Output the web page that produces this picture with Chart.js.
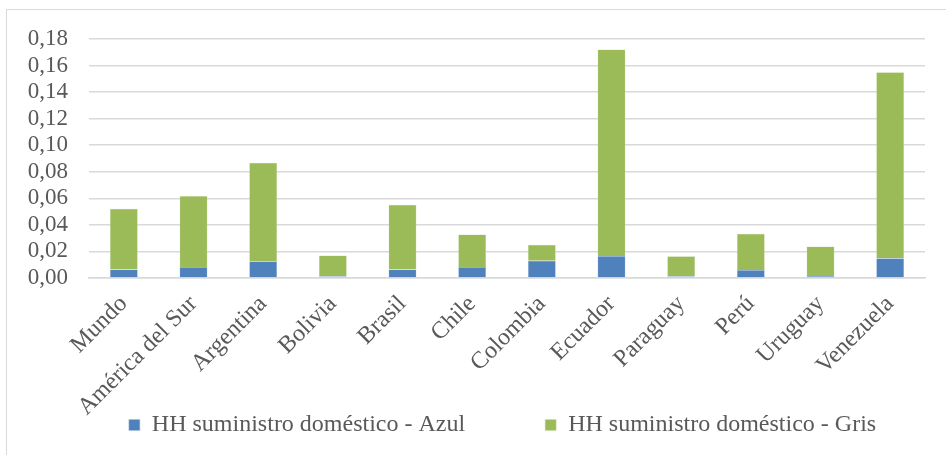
<!DOCTYPE html>
<html>
<head>
<meta charset="utf-8">
<script src="https://cdn.jsdelivr.net/npm/chart.js@4.4.1/dist/chart.umd.min.js"></script>
<style>
  html, body { margin: 0; padding: 0; background: #fff; }
  #wrap { position: relative; width: 946px; height: 455px; overflow: hidden; }
  #frame { position: absolute; left: 6px; top: 9px; width: 960px; height: 470px; border: 1px solid #d9d9d9; box-sizing: border-box; }
  #c { position: absolute; left: 0; top: 0; }
</style>
</head>
<body>
<div id="wrap">
  <div id="frame"></div>
  <canvas id="c" width="1005" height="455"></canvas>
</div>
<script>
const categories = ['Mundo', 'América del Sur', 'Argentina', 'Bolivia', 'Brasil', 'Chile', 'Colombia', 'Ecuador', 'Paraguay', 'Perú', 'Uruguay', 'Venezuela'];
const seriesNames = ['HH suministro doméstico - Azul', 'HH suministro doméstico - Gris'];
const azul = [0.0064, 0.0083, 0.0126, 0.0013, 0.0064, 0.0083, 0.0129, 0.0166, 0.0013, 0.0060, 0.0015, 0.0149];
const gris = [0.0458, 0.0535, 0.0742, 0.0156, 0.0488, 0.0245, 0.0121, 0.1554, 0.0151, 0.0273, 0.0222, 0.1401];
const yTicks = [0, 0.02, 0.04, 0.06, 0.08, 0.10, 0.12, 0.14, 0.16, 0.18];

const FONT = "'Liberation Serif', 'Times New Roman', serif";
Chart.defaults.font.family = FONT;
Chart.defaults.color = '#595959';

new Chart(document.getElementById('c'), {
  type: 'bar',
  data: {
    labels: categories,
    datasets: [
      { label: seriesNames[0], data: azul, backgroundColor: '#4f81bd', borderColor: '#a7c0de', borderWidth: 0.5, barPercentage: 0.4, categoryPercentage: 1.0 },
      { label: seriesNames[1], data: gris, backgroundColor: '#9bbb59', borderColor: '#cddcac', borderWidth: 0.5, barPercentage: 0.4, categoryPercentage: 1.0 }
    ]
  },
  options: {
    responsive: false,
    animation: false,
    devicePixelRatio: 1,
    layout: { padding: { left: 0, right: 0, top: 39, bottom: 8 } },
    plugins: {
      tooltip: { enabled: false },
      legend: {
        position: 'bottom',
        labels: {
          boxWidth: 11, boxHeight: 11, padding: 80,
          color: '#595959',
          font: { family: FONT, size: 24 }
        }
      }
    },
    scales: {
      x: {
        stacked: true,
        grid: { display: false, drawTicks: false },
        border: { display: true, color: '#d9d9d9', width: 1.5 },
        ticks: {
          color: '#595959', font: { family: FONT, size: 24 },
          maxRotation: 45, minRotation: 45, padding: 12, autoSkip: false
        },
        afterFit: (s) => { s.height = 55; s._computeLabelArea = () => undefined; }
      },
      y: {
        stacked: true,
        min: 0, max: 0.18,
        afterBuildTicks: (s) => { s.ticks = yTicks.map(v => ({ value: v })); },
        grid: { color: '#d9d9d9', lineWidth: 1.5, drawTicks: false },
        border: { display: false },
        ticks: {
          color: '#595959', font: { family: FONT, size: 23 }, padding: 21, autoSkip: false,
          callback: (v) => Number(v).toFixed(2).replace('.', ',')
        },
        afterFit: (s) => { s.width = 89; }
      },
      yPad: {
        type: 'linear', position: 'right', display: true,
        grid: { display: false, drawTicks: false },
        border: { display: false },
        ticks: { display: false },
        afterFit: (s) => { s.width = 80; }
      }
    }
  }
});
</script>
</body>
</html>
